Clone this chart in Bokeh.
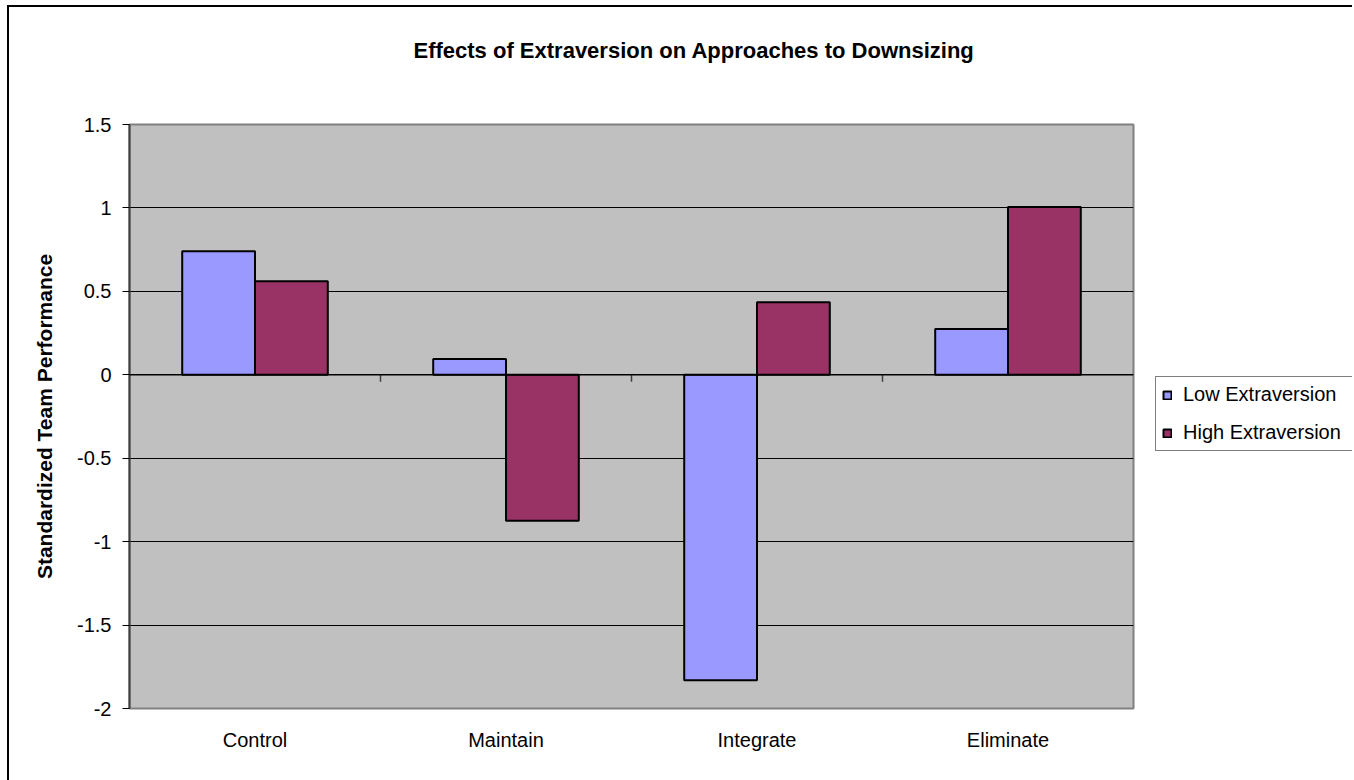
from bokeh.plotting import figure
from bokeh.models import (ColumnDataSource, FactorRange, Range1d, FixedTicker,
                          Legend, LegendItem, Span, Title)
from bokeh.transform import dodge
from bokeh.embed import file_html
from bokeh.resources import INLINE

categories = ["Control", "Maintain", "Integrate", "Eliminate"]
low_extraversion = [0.74, 0.095, -1.83, 0.275]
high_extraversion = [0.56, -0.875, 0.435, 1.005]
series_names = ["Low Extraversion", "High Extraversion"]
y_ticks = [-2, -1.5, -1, -0.5, 0, 0.5, 1, 1.5]
y_tick_labels = ["-2", "-1.5", "-1", "-0.5", "0", "0.5", "1", "1.5"]
title_text = "Effects of Extraversion on Approaches to Downsizing"
y_title = "Standardized Team Performance"

FONT = "Liberation Sans"

source = ColumnDataSource(dict(cat=categories, low=low_extraversion, high=high_extraversion))

p = figure(x_range=FactorRange(*categories, range_padding=0), y_range=Range1d(-2, 1.5),
           width=1356, height=773, frame_width=1004, frame_height=584,
           min_border_left=120, min_border_top=117, min_border_right=232, min_border_bottom=72,
           output_backend="svg", toolbar_location=None, tools="")
p.styles = {"margin-left": "7px", "margin-top": "5px",
            "border-left": "2px solid black", "border-top": "2px solid black",
            "overflow": "hidden", "max-width": "1345px"}

p.background_fill_color = "#C0C0C0"
p.border_fill_color = "white"
p.outline_line_color = "#808080"
p.outline_line_width = 2

p.title = Title(text=title_text, align="left", offset=284, standoff=0, vertical_align="bottom",
                padding=dict(top=0, right=0, bottom=62, left=0),
                text_font=FONT, text_font_size="22px", text_font_style="bold",
                text_color="black")

p.xgrid.grid_line_color = None
p.ygrid.grid_line_color = "black"
p.ygrid.grid_line_width = 1
p.ygrid.ticker = FixedTicker(ticks=y_ticks)

p.yaxis.ticker = FixedTicker(ticks=y_ticks)
p.yaxis.major_label_overrides = {t: l for t, l in zip(y_ticks, y_tick_labels)}
p.yaxis.axis_line_color = "#404040"
p.yaxis.axis_line_width = 2
p.yaxis.major_tick_line_color = "black"
p.yaxis.major_tick_out = 7
p.yaxis.major_tick_in = 0
p.yaxis.minor_tick_line_color = None
p.yaxis.major_label_standoff = 11
p.yaxis.major_label_text_font = FONT
p.yaxis.major_label_text_font_size = "20px"
p.yaxis.major_label_text_color = "black"
p.yaxis.axis_label = y_title
p.yaxis.axis_label_text_font = FONT
p.yaxis.axis_label_text_font_size = "21px"
p.yaxis.axis_label_text_font_style = "bold"
p.yaxis.axis_label_text_color = "black"
p.yaxis.axis_label_standoff = 18

p.xaxis.axis_line_color = None
p.xaxis.major_tick_line_color = None
p.xaxis.minor_tick_line_color = None
p.xaxis.major_label_standoff = 14
p.xaxis.major_label_text_font = FONT
p.xaxis.major_label_text_font_size = "20px"
p.xaxis.major_label_text_color = "black"

r_low = p.vbar(x=dodge("cat", -0.145, range=p.x_range), top="low", bottom=0, width=0.29,
               source=source, fill_color="#9999FF", line_color="black", line_width=2)
r_high = p.vbar(x=dodge("cat", 0.145, range=p.x_range), top="high", bottom=0, width=0.29,
                source=source, fill_color="#993366", line_color="black", line_width=2)

# zero line with category separator ticks
p.add_layout(Span(location=0, dimension="width", line_color="black", line_width=1.5))
tick_len = 7 / 166.9
bounds = list(range(1, len(categories)))
p.segment(x0=bounds, x1=bounds, y0=[0] * len(bounds), y1=[-tick_len] * len(bounds),
          line_color="#404040", line_width=1.5)

legend = Legend(items=[LegendItem(label=series_names[0], renderers=[r_low]),
                       LegendItem(label=series_names[1], renderers=[r_high])],
                location=(22, 257), orientation="vertical",
                glyph_width=10, glyph_height=10, label_standoff=11,
                label_text_font=FONT, label_text_font_size="20px", label_text_color="black",
                label_height=20, label_width=196, spacing=15, padding=6, margin=0,
                border_line_color="black", border_line_width=1,
                background_fill_color="white", background_fill_alpha=1)
p.add_layout(legend, "right")

open("out.html", "w").write(file_html(p, INLINE))
